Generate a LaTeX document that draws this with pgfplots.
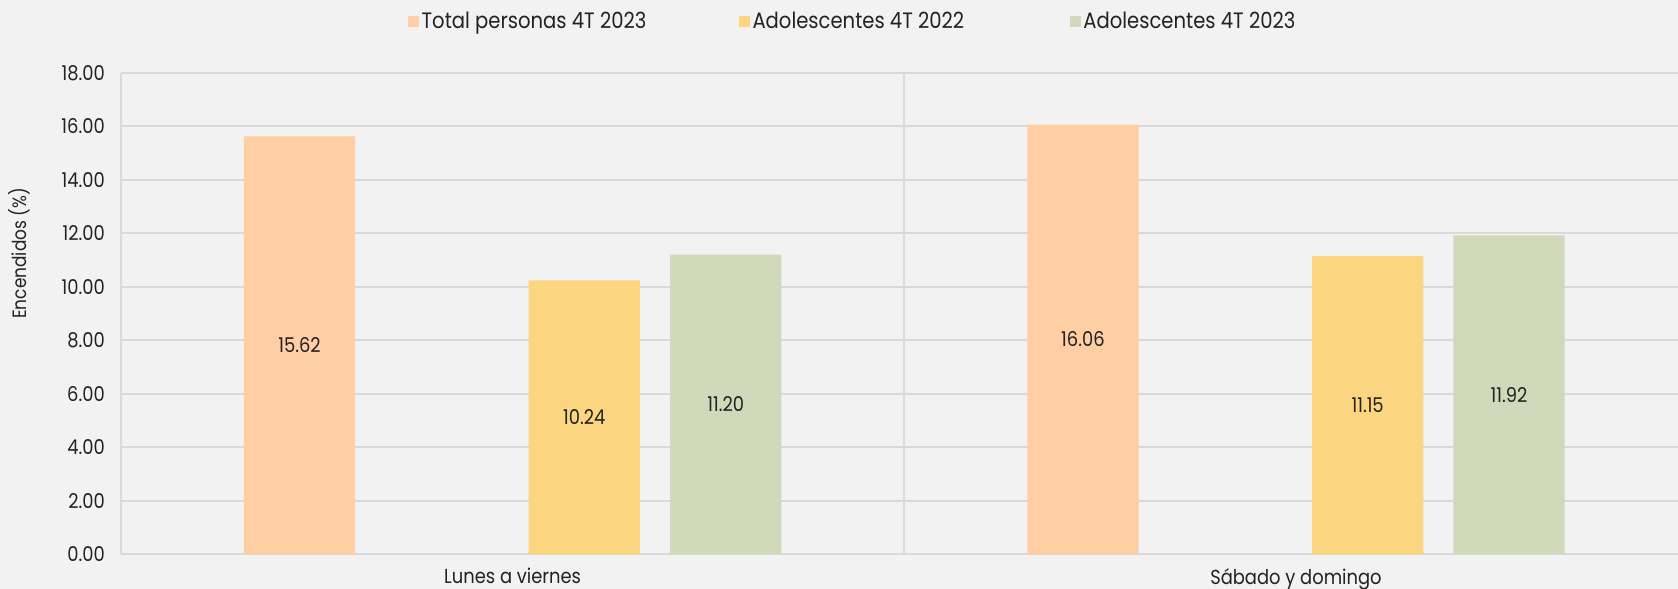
\documentclass[border=0pt]{standalone}
\usepackage{fontspec}
\setmainfont{Poppins}[FakeStretch=0.88]
\usepackage{pgfplots}
\pgfplotsset{compat=1.18}

\definecolor{bg}{HTML}{F2F2F2}
\definecolor{gridc}{HTML}{D9D9D9}
\definecolor{peach}{HTML}{FFCEA5}
\definecolor{gold}{HTML}{FCD580}
\definecolor{sage}{HTML}{D0D9BA}
\definecolor{txt}{HTML}{222222}

\pgfkeys{/pgf/number format/.cd, fixed, fixed zerofill, precision=2, assume math mode=true}

\begin{document}
\begin{tikzpicture}
\fill[bg] (0,0) rectangle (784pt,275pt);
\begin{axis}[
  at={(56.5pt,16pt)}, anchor=south west,
  scale only axis, width=732pt, height=225pt,
  xmin=-0.5, xmax=1.5, ymin=0, ymax=18,
  xtick={0,1}, xticklabels={Lunes a viernes,Sábado y domingo},
  ytick={0,2,...,18},
  extra x ticks={0.5}, extra x tick labels={},
  extra x tick style={grid=major},
  major tick length=0pt,
  ymajorgrids, grid style={gridc, line width=0.9pt},
  axis x line*=bottom, axis y line*=left,
  axis line style={gridc, line width=0.9pt},
  tick label style={font=\fontsize{9.5}{11}\selectfont, text=txt},
  yticklabel style={xshift=-4pt},
  xticklabel style={yshift=-3pt},
  ylabel={Encendidos (\%)},
  ylabel style={at={(axis description cs:-0.065,0.625)}, anchor=center,
    font=\fontsize{9}{11}\selectfont, text=txt},
  bar width=0.142,
  visualization depends on=y \as \rawy,
  lbl/.style={nodes near coords,
    nodes near coords style={font=\fontsize{9.5}{11}\selectfont, text=txt},
    every node near coord/.append style={anchor=center,
      shift={(axis direction cs:#1,-\rawy/2)}}},
  legend columns=3,
  legend style={at={(axis description cs:0.5,1)}, anchor=center, yshift=24pt,
    draw=none, fill=none, font=\fontsize{10.4}{12}\selectfont, text=txt,
    nodes={inner xsep=1.2pt}},
  legend image code/.code={\fill[#1] (0pt,-2.6pt) rectangle (5.2pt,2.6pt);},
]
\addplot[ybar, bar shift=-0.272, fill=peach, draw=none, lbl=-0.272]
  coordinates {(0,15.62) (1,16.06)};
\addlegendentry{\makebox[147pt][l]{Total personas 4T 2023}}
\addplot[ybar, bar shift=0.0915, fill=gold, draw=none, lbl=0.0915]
  coordinates {(0,10.24) (1,11.15)};
\addlegendentry{\makebox[147pt][l]{Adolescentes 4T 2022}}
\addplot[ybar, bar shift=0.272, fill=sage, draw=none, lbl=0.272]
  coordinates {(0,11.20) (1,11.92)};
\addlegendentry{\makebox[147pt][l]{Adolescentes 4T 2023}}
\end{axis}
\pgfresetboundingbox
\useasboundingbox (0,0) rectangle (784pt,275pt);
\end{tikzpicture}
\end{document}
